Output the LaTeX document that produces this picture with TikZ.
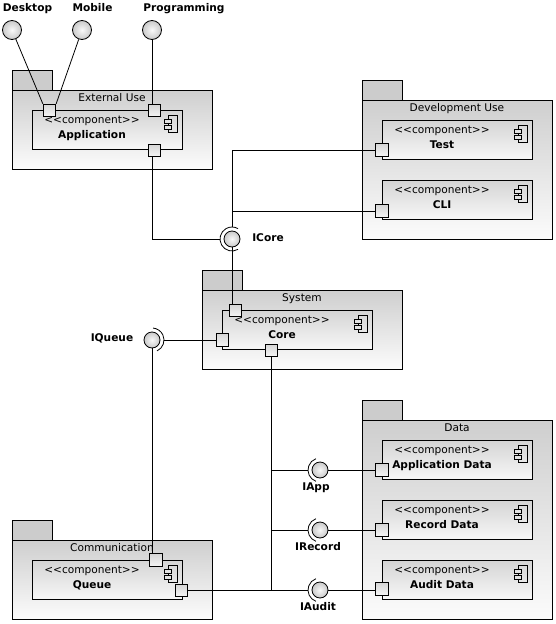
\documentclass[tikz,border=0pt]{standalone}
\usepackage{fontspec}
\setmainfont{DejaVu Sans}
\usetikzlibrary{calc}
\newcommand{\stereotxt}{<{}<component>{}>}
\begin{document}
\begin{tikzpicture}[x=1pt,y=-1pt,line width=0.8pt,
  every node/.style={font=\fontsize{10.6}{12}\selectfont},
  pkgbody/.style={draw, top color=gray!38, bottom color=gray!3, minimum width=200pt, anchor=north west, inner sep=0pt, outer sep=0pt},
  pkgtab/.style={draw, fill=gray!40, minimum width=40pt, minimum height=20pt, anchor=south west, inner sep=0pt, outer sep=0pt},
  comp/.style={draw, top color=gray!34, bottom color=gray!6, minimum width=150pt, minimum height=39pt, anchor=north west, inner sep=0pt, outer sep=0pt},
  port/.style={draw, top color=gray!32, bottom color=gray!8, minimum size=12.5pt, inner sep=0pt},
  ball/.style={draw, circle, inner color=gray!5, outer color=gray!42, minimum size=16pt, inner sep=0pt},
  bigball/.style={ball, minimum size=19pt},
  lbl/.style={font=\fontsize{10.6}{12}\selectfont\bfseries, anchor=base},
  txt/.style={anchor=base},
  compicon/.pic={
    \draw[line width=0.7pt] (0,0) rectangle (9,17);
    \draw[line width=0.7pt, fill=gray!22] (-4,4) rectangle (3,8);
    \draw[line width=0.7pt, fill=gray!22] (-4,10) rectangle (3,14);
  }]
\useasboundingbox (0,0) rectangle (556,624);

% ---------- packages ----------
\node[pkgtab] (exttab) at (12,90) {};
\node[pkgbody, minimum height=79pt] (ext) at (12,90) {};
\node[txt] (extlbl) at ($(ext.north)+(0,11)$) {External Use};

\node[pkgtab] (devtab) at (362,100) {};
\node[pkgbody, minimum width=190pt, minimum height=139pt] (dev) at (362,100) {};
\node[txt] (devlbl) at ($(dev.north)+(0,11)$) {Development Use};

\node[pkgtab] (systab) at (202,290) {};
\node[pkgbody, minimum height=79pt] (sys) at (202,290) {};
\node[txt] (syslbl) at ($(sys.north)+(0,11)$) {System};

\node[pkgtab] (datatab) at (362,420) {};
\node[pkgbody, minimum width=190pt, minimum height=199pt] (data) at (362,420) {};
\node[txt] (datalbl) at ($(data.north)+(0,11)$) {Data};

\node[pkgtab] (commtab) at (12,540) {};
\node[pkgbody, minimum height=79pt] (comm) at (12,540) {};
\node[txt] (commlbl) at ($(comm.north)+(0,11)$) {Communication};

% ---------- components ----------
\foreach \n/\x/\y/\t in {app/32/110/Application, test/382/120/Test, cli/382/180/CLI,
  core/222/310/Core, adata/382/440/Application Data, rdata/382/500/Record Data,
  udata/382/560/Audit Data, queue/32/560/Queue}{
  \node[comp] (\n) at (\x,\y) {};
  \node[txt] (\n st) at ($(\n.north west)+(60,13.5)$) {\stereotxt};
  \node[lbl] (\n nm) at ($(\n.north west)+(60,28)$) {\t};
  \pic at ($(\n.north east)+(-14,5)$) {compicon};
}

% ---------- balls / interfaces ----------
\node[bigball] (desk) at (12,30) {};
\node[bigball] (mob) at (82,30) {};
\node[bigball] (prog) at (152,30) {};
\node[lbl] (desklbl) at (27.5,11) {Desktop};
\node[lbl] (moblbl) at (92.5,11) {Mobile};
\node[lbl] (proglbl) at (184,11) {Programming};

\node[ball] (icore) at (232,239) {};
\draw (icore.center) ++(60:12) arc[start angle=60, end angle=300, radius=12];
\node[lbl] (icorelbl) at (268,241.5) {ICore};

\node[ball] (iq) at (152,340) {};
\draw (iq.center) ++(65:12) arc[start angle=65, end angle=-85, radius=12];
\node[lbl] (iqlbl) at (112,341) {IQueue};

\node[ball] (iapp) at (320,470) {};
\node[ball] (irec) at (320,530) {};
\node[ball] (iaud) at (320,590) {};
\foreach \b in {iapp,irec,iaud}{
  \draw (\b.center) ++(110:12) arc[start angle=110, end angle=250, radius=12];
}
\node[lbl] (iapplbl) at (316,490.5) {IApp};
\node[lbl] (ireclbl) at (318,550.5) {IRecord};
\node[lbl] (iaudlbl) at (318,610.5) {IAudit};

\coordinate (icoreW) at ($(icore.center)+(-12,0)$);
\coordinate (icoreN) at ($(icore.center)+(0,-12)$);
\coordinate (iqE) at ($(iq.center)+(12,0)$);
\coordinate (iappW) at ($(iapp.center)+(-12,0)$);
\coordinate (irecW) at ($(irec.center)+(-12,0)$);
\coordinate (iaudW) at ($(iaud.center)+(-12,0)$);

% ---------- ports ----------
\node[port] (apptl) at (49.5,110.5) {};
\node[port] (apptr) at (154.5,110.5) {};
\node[port] (appb) at (154.5,150.5) {};
\node[port] (testp) at (382,150) {};
\node[port] (clip) at (382,211) {};
\node[port] (coret) at (235.5,310.5) {};
\node[port] (corel) at (222.5,340) {};
\node[port] (coreb) at (271.5,350.5) {};
\node[port] (adatap) at (382,470) {};
\node[port] (rdatap) at (382,530) {};
\node[port] (udatap) at (382,589) {};
\node[port] (queuet) at (156,560) {};
\node[port] (queuer) at (181.5,590.5) {};

% ---------- connectors ----------
\draw (desk) -- (apptl.north west);
\draw (mob) -- (apptl.north east);
\draw (prog.south) -- (prog.south |- apptr.north);
\draw (prog.south |- appb.south) |- (icoreW);
\draw (icoreN) -- (icoreN |- testp.west) -- (testp.west);
\draw (icoreN |- clip.west) -- (clip.west);
\draw (icore.south) -- (icore.south |- coret.north);
\draw (iqE) -- (corel.west);
\draw (iq.south) -- (iq.south |- queuet.north);
\draw (coreb.south) -- (coreb.south |- iaudW);
\draw (coreb.south |- iappW) -- (iappW);
\draw (coreb.south |- irecW) -- (irecW);
\draw (queuer.east |- iaudW) -- (iaudW);
\draw (iapp.east) -- (iapp.east -| adatap.west);
\draw (irec.east) -- (irec.east -| rdatap.west);
\draw (iaud.east) -- (iaud.east -| udatap.west);
\end{tikzpicture}
\end{document}
